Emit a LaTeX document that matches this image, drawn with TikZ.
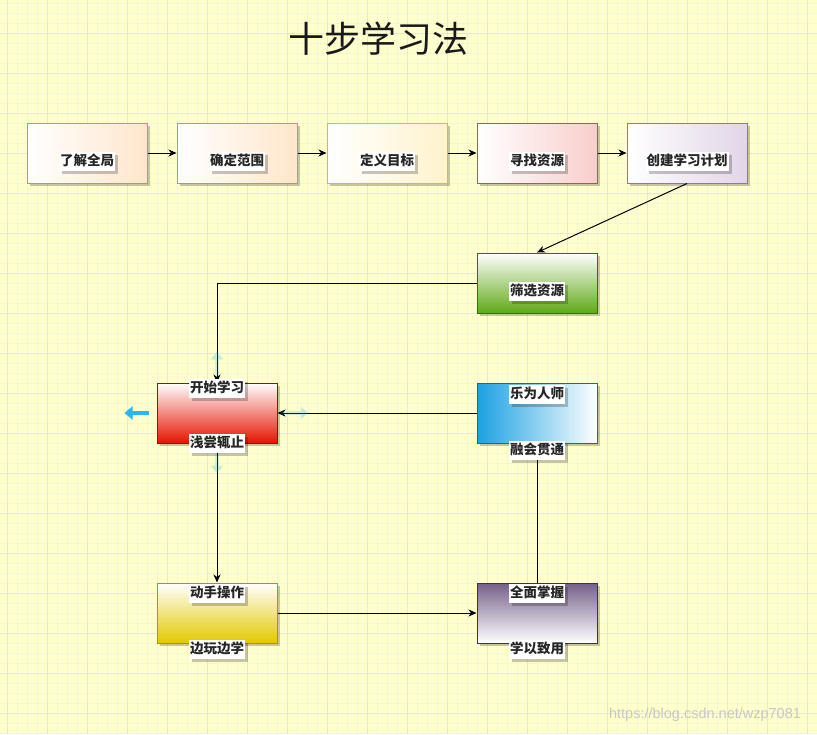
\documentclass[tikz,border=0pt]{standalone}
\usepackage{fontspec}
\newfontfamily\cjk{Noto Sans CJK SC}
\newfontfamily\wmfont{Liberation Sans}
\usetikzlibrary{arrows.meta,shadows}
\definecolor{bgc}{HTML}{FFFFCC}
\definecolor{minorc}{HTML}{F4F4D6}
\definecolor{majorc}{HTML}{E8E8D2}
\definecolor{hoverc}{HTML}{29B6F2}
\tikzset{
  minorline/.style={draw=minorc, line width=0.8pt},
  majorline/.style={draw=majorc, line width=1pt},
  boxshadow/.style={drop shadow={shadow xshift=3pt, shadow yshift=-3pt, fill=black, opacity=0.22}},
  stepbox/.style={boxshadow, minimum width=120pt, minimum height=60pt, inner sep=0pt, line width=1pt},
  lbl/.style={fill=white, boxshadow, inner xsep=1pt, inner ysep=2.5pt, text height=11pt, text depth=3pt,
    font=\cjk\bfseries\fontsize{13.5}{15}\selectfont, text=black!85},
  conn/.style={draw=black, line width=1pt, -{Stealth[length=8pt,width=7pt,inset=2.5pt]}},
  hoverarrow/.style={draw=hoverc, line width=4pt, -{Triangle[width=13pt,length=8pt]}},
}
\begin{document}
\begin{tikzpicture}[x=1pt,y=-1pt]
\useasboundingbox (0,0) rectangle (817,734);
\fill[bgc] (0,0) rectangle (817,734);
% grid
\foreach \x in {7,17,...,817} \draw[minorline] (\x,0) -- (\x,734);
\foreach \y in {3,13,...,733} \draw[minorline] (0,\y) -- (817,\y);
\foreach \x in {7,47,...,807} \draw[majorline] (\x,0) -- (\x,734);
\foreach \y in {33,73,...,713} \draw[majorline] (0,\y) -- (817,\y);

% title
\node (title) [text=black!90, font=\cjk\fontsize{36}{40}\selectfont] at (378,39) {十步学习法};

% boxes
\node (a1) [stepbox, draw={rgb,255:red,215;green,155;blue,0}, left color=white, right color={rgb,255:red,255;green,230;blue,204}] at (87,153) {};
\node (a2) [stepbox, draw={rgb,255:red,215;green,155;blue,0}, left color=white, right color={rgb,255:red,255;green,230;blue,204}] at (237,153) {};
\node (a3) [stepbox, draw={rgb,255:red,214;green,182;blue,86}, left color=white, right color={rgb,255:red,255;green,242;blue,204}] at (387,153) {};
\node (a4) [stepbox, draw={rgb,255:red,184;green,84;blue,80}, left color=white, right color={rgb,255:red,248;green,206;blue,204}] at (537,153) {};
\node (a5) [stepbox, draw={rgb,255:red,150;green,115;blue,166}, left color=white, right color={rgb,255:red,225;green,213;blue,231}] at (687,153) {};
\node (a6) [stepbox, draw={rgb,255:red,45;green,118;blue,0}, top color=white, bottom color={rgb,255:red,96;green,169;blue,23}] at (537,283) {};
\node (b1) [stepbox, draw={rgb,255:red,178;green,0;blue,0}, top color=white, bottom color={rgb,255:red,229;green,20;blue,0}] at (217,413) {};
\node (b2) [stepbox, draw={rgb,255:red,0;green,110;blue,175}, left color={rgb,255:red,27;green,161;blue,226}, right color=white] at (537,413) {};
\node (c1) [stepbox, draw={rgb,255:red,176;green,149;blue,0}, top color=white, bottom color={rgb,255:red,227;green,200;blue,0}] at (217,613) {};
\node (c2) [stepbox, draw={rgb,255:red,67;green,45;blue,87}, top color={rgb,255:red,118;green,96;blue,138}, bottom color=white] at (537,613) {};

% connectors
\draw[conn] (a1.east) -- (a2.west);
\draw[conn] (a2.east) -- (a3.west);
\draw[conn] (a3.east) -- (a4.west);
\draw[conn] (a4.east) -- (a5.west);
\draw[conn] (a5.south) -- (a6.north);
\draw[conn] (a6.west) -| (b1.north);
\draw[conn] (b2.west) -- (b1.east);
\draw[conn] (b1.south) -- (c1.north);
\draw[conn] (c1.east) -- (c2.west);
\draw[conn] (c2.north) -- (b2.south);

% hover arrows
\draw[hoverarrow, opacity=0.18] ([yshift=8pt]b1.north) -- ([yshift=31pt]b1.north);
\draw[hoverarrow, opacity=0.18] ([yshift=-10pt]b1.south) -- ([yshift=-30pt]b1.south);
\draw[hoverarrow, opacity=0.18] ([xshift=3pt]b1.east) -- ([xshift=31pt]b1.east);
\draw[hoverarrow] ([xshift=-8pt]b1.west) -- ([xshift=-32pt]b1.west);

% labels
\node (l1) [lbl] at (87,161) {了解全局};
\node (l2) [lbl] at (237,161) {确定范围};
\node (l3) [lbl] at (387,161) {定义目标};
\node (l4) [lbl] at (537,161) {寻找资源};
\node (l5) [lbl] at (687,161) {创建学习计划};
\node (l6) [lbl] at (537,291) {筛选资源};
\node (l7) [lbl] at (217,388) {开始学习};
\node (l8) [lbl] at (217,443) {浅尝辄止};
\node (l9) [lbl] at (537,394) {乐为人师};
\node (l10) [lbl] at (537,450) {融会贯通};
\node (l11) [lbl] at (217,593) {动手操作};
\node (l12) [lbl] at (217,649) {边玩边学};
\node (l13) [lbl] at (537,593) {全面掌握};
\node (l14) [lbl] at (537,649) {学以致用};

% watermark
\node (wm) [text=black!22, font=\wmfont\fontsize{14.5}{16}\selectfont] at (705,715) {https://blog.csdn.net/wzp7081};
\end{tikzpicture}
\end{document}
